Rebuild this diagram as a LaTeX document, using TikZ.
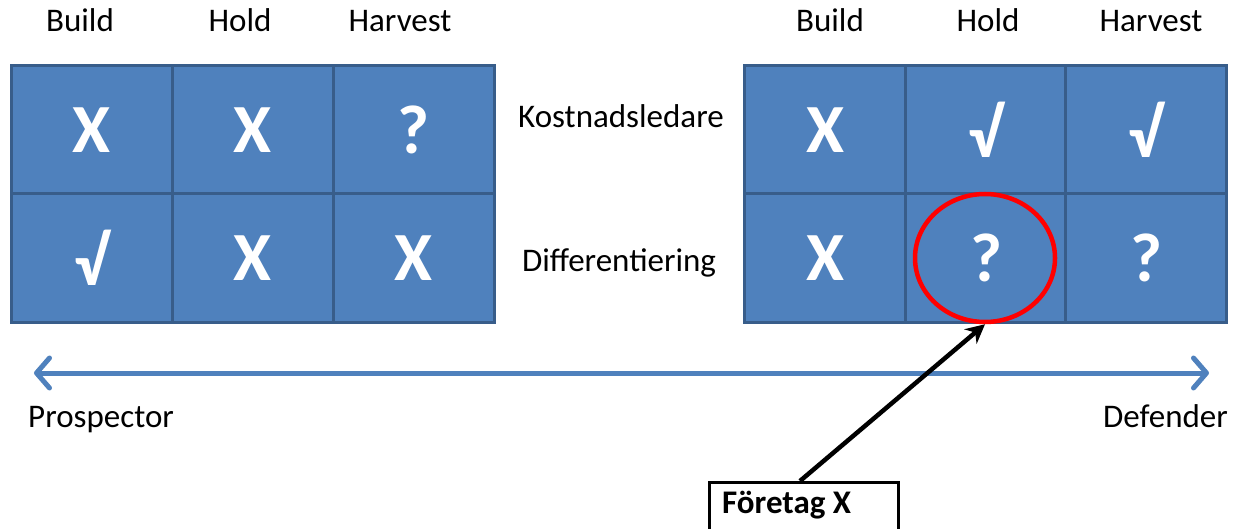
\documentclass[tikz,border=0pt]{standalone}
\usepackage{fontspec}
\setmainfont{Carlito}
\usetikzlibrary{arrows.meta,shapes.geometric}
\definecolor{cellblue}{HTML}{4F81BD}
\definecolor{celledge}{HTML}{385D8A}
\definecolor{ringred}{HTML}{FF0000}
\tikzset{
  cell/.style={rectangle, draw=celledge, fill=cellblue, line width=3pt,
    minimum width=161pt, minimum height=128pt, inner sep=0pt,
    text=white, font=\fontsize{69}{75}\selectfont\bfseries},
  lbl/.style={inner sep=0pt, font=\fontsize{33}{39}\selectfont, text=black},
  barb/.tip={Straight Barb[length=13pt,width=30pt,line width=5pt,line join=round,line cap=round]},
  axisline/.style={draw=cellblue, line width=5pt, line cap=round, barb-barb},
  ring/.style={ellipse, draw=ringred, line width=4.5pt,
    minimum width=140pt, minimum height=128pt, inner sep=0pt},
  firmbox/.style={rectangle, draw=black, line width=3pt, fill=white,
    minimum width=189pt, minimum height=100pt, inner sep=0pt},
  pointer/.style={draw=black, line width=4.5pt, -{Stealth[length=19pt,width=19pt]}}
}
\begin{document}
\begin{tikzpicture}[x=1pt,y=-1pt]
  \useasboundingbox[fill=white] (0,0) rectangle (1234,529);

  % column headings
  \node[lbl, anchor=base] (hb1) at (80,32) {Build};
  \node[lbl, anchor=base] (hh1) at (240,32) {Hold};
  \node[lbl, anchor=base] (hv1) at (400,32) {Harvest};
  \node[lbl, anchor=base] (hb2) at (830,32) {Build};
  \node[lbl, anchor=base] (hh2) at (988,32) {Hold};
  \node[lbl, anchor=base] (hv2) at (1151,32) {Harvest};

  % left grid
  \node[cell] (a11) at (91.5,130) {X};
  \node[cell] (a12) at (252.5,130) {X};
  \node[cell] (a13) at (413.5,130) {?};
  \node[cell] (a21) at (91.5,258) {√};
  \node[cell] (a22) at (252.5,258) {X};
  \node[cell] (a23) at (413.5,258) {X};

  % right grid
  \node[cell] (b11) at (825,130) {X};
  \node[cell] (b12) at (986,130) {√};
  \node[cell] (b13) at (1146,130) {√};
  \node[cell] (b21) at (825,258) {X};
  \node[cell] (b22) at (986,258) {?};
  \node[cell] (b23) at (1146,258) {?};

  % row labels
  \node[lbl, anchor=base] (rk) at (621,128) {Kostnadsledare};
  \node[lbl, anchor=base] (rd) at (619,272) {Differentiering};

  % strategy axis
  \coordinate (axl) at (34,373);
  \coordinate (axr) at (1209,373);
  \draw[axisline] (axl) -- (axr);
  \node[lbl, anchor=base west] (pros) at (28,427) {Prospector};
  \node[lbl, anchor=base east] (def) at (1228,427) {Defender};

  % highlighted cell and pointer box
  \node[ring] (circ) at (985,258) {};
  \node[firmbox, anchor=north west] (firm) at (708,481) {};
  \node[lbl, anchor=base west, font=\fontsize{33}{39}\selectfont\bfseries] (firmtxt) at (722,513) {Företag X};
  \draw[pointer] ([xshift=-4pt]firm.north) -- (circ.south);
\end{tikzpicture}
\end{document}
